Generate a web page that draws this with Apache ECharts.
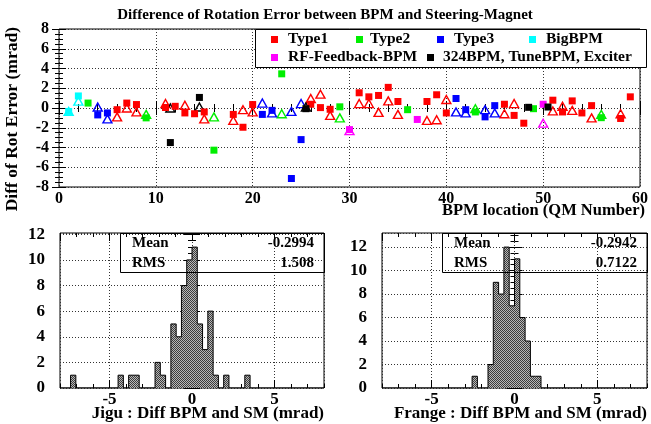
<!DOCTYPE html>
<html><head><meta charset="utf-8">
<script src="https://cdn.jsdelivr.net/npm/echarts@6/dist/echarts.min.js"></script>
<style>html,body{margin:0;padding:0;background:#fff}#c{width:651px;height:424px}</style>
</head><body><div id="c"></div>
<script>
// ---------- DATA ----------
// Jigu = filled squares, Frange = open triangles ; [QM number, diff (mrad)]
const type1Jigu = [[6,-0.17],[7,0.5],[8,0.35],[11,0.05],[12,0.17],[13,-0.5],[14,-0.58],[15,-0.4],[18,-0.65],[19,-1.95],[20,0.35],[26,0.38],[27,0.04],[28,-0.13],[31,1.54],[32,1.13],[33,1.27],[34,2.09],[35,0.66],[38,0.66],[39,1.34],[40,-0.5],[46,0.38],[47,-0.75],[48,-1.54],[51,0.79],[52,-0.4],[53,0.72],[54,-0.5],[55,0.24],[58,-1.06],[59,1.13]];
const type1Frange = [[6,-0.9],[7,0.0],[8,-0.4],[11,0.45],[13,0.28],[15,-1.1],[18,-1.26],[19,-0.17],[20,-0.4],[26,0.96],[27,1.4],[28,-0.75],[31,0.45],[32,0.45],[33,-0.44],[34,0.72],[35,-0.65],[38,-1.26],[39,-1.19],[40,0.86],[46,-0.58],[47,0.45],[51,-0.3],[52,0.17],[53,-0.24],[55,-1.0],[58,-0.58]];
const type2Jigu = [[3,0.5],[9,-1.0],[16,-4.27],[23,3.46],[29,0.12],[36,-0.17],[43,-0.4],[49,-0.07],[56,-0.98]];
const type2Frange = [[9,-0.65],[16,-0.9],[23,-0.58],[29,-1.0],[43,-0.07],[56,-0.65]];
const type3Jigu = [[4,-0.7],[5,-0.5],[21,-0.65],[22,-0.24],[24,-7.14],[25,-3.2],[41,0.96],[42,-0.17],[44,-0.9],[45,0.24]];
const type3Frange = [[4,0.1],[5,-1.1],[21,0.5],[22,-0.5],[24,-0.34],[25,0.45],[41,-0.4],[42,-0.5],[44,-0.17],[45,-0.5]];
const bigJigu = [[1,-0.35],[2,1.22]];
const bigFrange = [[1,-0.35],[2,0.7]];
const rfJigu = [[30,-2.19],[37,-1.16],[50,0.38]];
const rfFrange = [[30,-2.3],[50,-1.54]];
const blkJigu = [[11.5,-3.5],[14.5,1.07],[25.5,-0.07],[48.5,0.07],[50.5,0.1]];
const blkFrange = [[11.5,0.0],[14.5,0.1],[25.5,0.1]];

const seriesNames = ['Type1','Type2','Type3','BigBPM','RF-Feedback-BPM','324BPM, TuneBPM, Exciter'];
const seriesColors = ['#ff0000','#00ee00','#0000ff','#00ffff','#ff00ff','#000000'];

// histograms: 50 bins from -8 to 8
const binMin = -8, binMax = 8, nBins = 50;
const jiguCounts = [0,0,1,0,0,0,0,0,0,0, 0,1,0,1,1,0,0,0,2,1, 0,5,4,8,10,11,5,3,6,1, 0,1,0,0,0,1,0,0,0,0, 0,0,0,0,0,0,0,0,0,0];
const frangeCounts = [0,0,0,0,0,0,0,0,0,0, 0,0,0,0,0,0,0,1,0,0, 2,9,8,12,7,11,6,4,1,1, 0,0,0,0,0,0,0,0,0,0, 0,0,0,0,0,0,0,0,0,0];
const statLabels = ['Mean','RMS'];
const jiguStats = ['-0.2994','1.508'];
const frangeStats = ['-0.2942','0.7122'];

const titleText = 'Difference of Rotation Error between BPM and Steering-Magnet';
const topXTitle = 'BPM location (QM Number)';
const topYTitle = 'Diff of Rot Error (mrad)';
const jiguXTitle = 'Jigu : Diff BPM and SM (mrad)';
const frangeXTitle = 'Frange : Diff BPM and SM (mrad)';

// ---------- CHART ----------
const FF = "'Liberation Serif','Times New Roman',serif";
const txt = (size) => ({fontFamily: FF, fontWeight: 'bold', fontSize: size, color: '#000'});
const gridLine = {show: true, lineStyle: {color: '#333', width: 1, type: [1, 2]}};

function pattern() {
  const c = document.createElement('canvas'); c.width = 2; c.height = 2;
  const g = c.getContext('2d');
  g.fillStyle = '#b8b8b8'; g.fillRect(0, 0, 2, 2);
  g.fillStyle = '#3c3c3c'; g.fillRect(0, 0, 1, 1); g.fillRect(1, 1, 1, 1);
  return c;
}
const pat = pattern();

function ax(o) {
  return Object.assign({
    type: 'value', axisLine: {show: false}, splitLine: {show: false},
    axisLabel: {show: false}, axisTick: {show: false}, minorTick: {show: false}
  }, o);
}
const tick = (len) => ({show: true, inside: true, length: len, lineStyle: {color: '#000', width: 1}});
const minor = (n, len) => ({show: true, splitNumber: n, length: len, lineStyle: {color: '#000', width: 1}});

const xAxes = [], yAxes = [];
// top plot
xAxes.push(ax({gridIndex: 0, min: 0, max: 60, interval: 10, position: 'bottom',
  axisLabel: Object.assign({show: true, margin: 4}, txt(16)), axisTick: tick(7), minorTick: minor(5, 4), splitLine: gridLine}));
xAxes.push(ax({gridIndex: 0, min: 0, max: 60, interval: 10, position: 'top', axisTick: tick(7), minorTick: minor(5, 4)}));
yAxes.push(ax({gridIndex: 0, min: -8, max: 8, interval: 2, position: 'left',
  axisLabel: Object.assign({show: true, margin: 10}, txt(16)), axisTick: tick(7), minorTick: minor(4, 4), splitLine: gridLine}));
yAxes.push(ax({gridIndex: 0, min: -8, max: 8, interval: 2, position: 'right', axisTick: tick(7), minorTick: minor(4, 4)}));

function histAxes(gi, ymax) {
  const xi = xAxes.length, yi = yAxes.length;
  xAxes.push(ax({gridIndex: gi, min: binMin, max: binMax, interval: 1, position: 'bottom', axisTick: tick(4)}));
  xAxes.push(ax({gridIndex: gi, min: binMin, max: binMax, splitNumber: 3, position: 'bottom',
    axisLabel: Object.assign({show: true, margin: 3, showMinLabel: false, showMaxLabel: false}, txt(17)),
    axisTick: tick(8), splitLine: gridLine}));
  xAxes.push(ax({gridIndex: gi, min: binMin, max: binMax, interval: 1, position: 'top', axisTick: tick(4)}));
  xAxes.push(ax({gridIndex: gi, min: binMin, max: binMax, splitNumber: 3, position: 'top', axisTick: tick(8)}));
  yAxes.push(ax({gridIndex: gi, min: 0, max: ymax, interval: 2, position: 'left',
    axisLabel: Object.assign({show: true, margin: 15, showMaxLabel: false}, txt(17)),
    axisTick: tick(8), minorTick: minor(4, 4), splitLine: gridLine}));
  yAxes.push(ax({gridIndex: gi, min: 0, max: ymax, interval: 2, position: 'right', axisTick: tick(8), minorTick: minor(4, 4)}));
  return {xi, yi};
}
const hJ = histAxes(1, Math.max(...jiguCounts) * 1.1);
const hF = histAxes(2, Math.max(...frangeCounts) * 1.1);

function histSeries(counts, idx) {
  const w = (binMax - binMin) / nBins;
  const data = counts.map((c, k) => [binMin + k * w, c]);
  data.push([binMax, 0]);
  return {type: 'line', xAxisIndex: idx.xi, yAxisIndex: idx.yi, step: 'end', symbol: 'none',
    data, lineStyle: {color: '#000', width: 1}, areaStyle: {color: {image: pat, repeat: 'repeat'}, opacity: 1},
    silent: true, animation: false, z: 3};
}

const jigu = [type1Jigu, type2Jigu, type3Jigu, bigJigu, rfJigu, blkJigu];
const frange = [type1Frange, type2Frange, type3Frange, bigFrange, rfFrange, blkFrange];
const series = [];
seriesNames.forEach((n, i) => {
  series.push({name: n + ' Frange', type: 'scatter', xAxisIndex: 0, yAxisIndex: 0, data: frange[i],
    symbol: 'triangle', symbolSize: [9, 8],
    itemStyle: {color: 'rgba(255,255,255,0)', borderColor: seriesColors[i], borderWidth: 1.4, opacity: 1}, z: 3});
});
seriesNames.forEach((n, i) => {
  series.push({name: n, type: 'scatter', xAxisIndex: 0, yAxisIndex: 0, data: jigu[i],
    symbol: 'rect', symbolSize: 7, itemStyle: {color: seriesColors[i], opacity: 1}, z: 4});
});
series.push(histSeries(jiguCounts, hJ));
series.push(histSeries(frangeCounts, hF));

// legend + stats via graphic
const legendPos = [[274, 39, 288], [359, 39, 370], [440, 39, 454], [532, 39, 546], [274, 57, 288], [430, 57, 443]];
const graphic = [];
graphic.push({type: 'rect', shape: {x: 255.5, y: 29.5, width: 391, height: 38}, style: {fill: '#fff', stroke: '#000', lineWidth: 1}, z: 100});
seriesNames.forEach((n, i) => {
  const p = legendPos[i];
  graphic.push({type: 'rect', shape: {x: p[0] - 3, y: p[1] - 3, width: 7, height: 7}, style: {fill: seriesColors[i]}, z: 101});
  graphic.push({type: 'text', x: p[2], y: p[1], style: {text: n, verticalAlign: 'middle', align: 'left', font: "bold 15.5px " + FF, fill: '#000'}, z: 101});
});
function statsBox(x0, x1, vals) {
  graphic.push({type: 'rect', shape: {x: x0 + 0.5, y: 233.5, width: x1 - x0, height: 39}, style: {fill: 'none', stroke: '#000', lineWidth: 1}, z: 100});
  statLabels.forEach((l, i) => {
    const y = 243 + i * 20.5;
    graphic.push({type: 'text', x: x0 + 12, y, style: {text: l, font: "bold 15px " + FF, fill: '#000', verticalAlign: 'middle', align: 'left'}, z: 101});
    graphic.push({type: 'text', x: x1 - 10, y, style: {text: vals[i], font: "bold 15px " + FF, fill: '#000', verticalAlign: 'middle', align: 'right'}, z: 101});
  });
}
statsBox(120, 324, jiguStats);
statsBox(442, 647, frangeStats);
graphic.push({type: 'text', x: 325, y: 15, style: {text: titleText, font: "bold 15px " + FF, fill: '#000', align: 'center', verticalAlign: 'middle'}});
graphic.push({type: 'text', x: 645, y: 211, style: {text: topXTitle, font: "bold 16.5px " + FF, fill: '#000', align: 'right', verticalAlign: 'middle'}});
graphic.push({type: 'text', x: 12, y: 27, rotation: Math.PI / 2, style: {text: topYTitle, font: "bold 17.5px " + FF, fill: '#000', align: 'right', verticalAlign: 'middle'}});
graphic.push({type: 'text', x: 324, y: 414, style: {text: jiguXTitle, font: "bold 17px " + FF, fill: '#000', align: 'right', verticalAlign: 'middle'}});
graphic.push({type: 'text', x: 647, y: 414, style: {text: frangeXTitle, font: "bold 17px " + FF, fill: '#000', align: 'right', verticalAlign: 'middle'}});

const chart = echarts.init(document.getElementById('c'), null, {renderer: 'canvas'});
chart.setOption({
  animation: false,
  backgroundColor: '#fff',
  grid: [
    {left: 59, top: 29, width: 588, height: 158, show: true, borderColor: '#000', borderWidth: 1, containLabel: false},
    {left: 60, top: 233, width: 264, height: 155, show: true, borderColor: '#000', borderWidth: 1, containLabel: false},
    {left: 382, top: 233, width: 265, height: 155, show: true, borderColor: '#000', borderWidth: 1, containLabel: false}
  ],
  xAxis: xAxes, yAxis: yAxes, series, graphic
});
</script></body></html>
